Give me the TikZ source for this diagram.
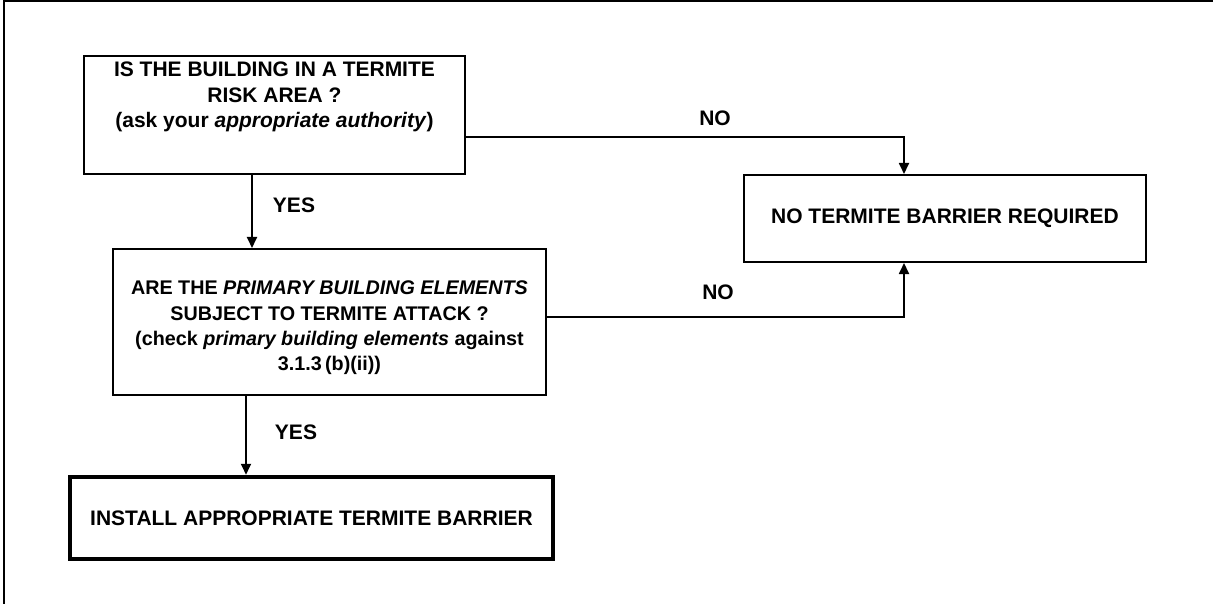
\documentclass[tikz,border=0pt]{standalone}
\usepackage{fontspec}
\setmainfont{Liberation Sans}
\usetikzlibrary{arrows.meta}

\tikzset{
  box/.style={draw, line width=2pt, inner sep=0pt, align=center},
  flow/.style={line width=1.8pt, -{Triangle[length=11pt, width=10pt]}},
  lbl/.style={inner sep=0pt, align=center},
}

\begin{document}
\begin{tikzpicture}[x=1pt, y=-1pt, font=\fontsize{21}{25.5}\selectfont\bfseries]
  \useasboundingbox (0,0) rectangle (1213,604);
  % page frame, top and left only
  \draw[line width=2pt] (4,0) -- (4,604);
  \draw[line width=2pt] (3,1.5) -- (1213,1.5);

  \node[box, minimum width=381pt, minimum height=118pt] (risk) at (274.5,115) {};
  \node[lbl] (risktext) at (274.5,97) {IS THE BUILDING IN A TERMITE\\ RISK AREA ?\\ (ask your \textit{appropriate authority})};

  \node[box, minimum width=433pt, minimum height=146pt] (attack) at (329.5,322) {};
  \node[lbl, font=\fontsize{19.75}{25.3}\selectfont\bfseries] (attacktext) at (329.5,328)
    {ARE THE \textit{PRIMARY BUILDING ELEMENTS}\\ SUBJECT TO TERMITE ATTACK ?\\ (check \textit{primary building elements} against\\ 3.1.3\,(b)(ii))};

  \node[box, minimum width=402pt, minimum height=87pt] (none) at (945,218.5) {NO TERMITE BARRIER REQUIRED};
  \node[box, line width=4.5pt, minimum width=483pt, minimum height=82pt] (install) at (311.5,518) {INSTALL APPROPRIATE TERMITE BARRIER};

  % connectors
  \coordinate (r1) at ([xshift=-22.5pt]risk.south);
  \draw[flow] (r1) -- (r1 |- attack.north);
  \coordinate (r2) at ([yshift=-22pt]risk.east);
  \coordinate (n1) at ([xshift=-41pt]none.north);
  \draw[flow] (r2) -| (n1);
  \coordinate (a2) at ([yshift=5pt]attack.east);
  \coordinate (n2) at ([xshift=-41pt]none.south);
  \draw[flow] (a2) -| (n2);
  \coordinate (a1) at ([xshift=-83.5pt]attack.south);
  \draw[flow] (a1) -- (a1 |- install.north);

  \node[lbl] (yes1) at (294,205) {YES};
  \node[lbl] (yes2) at (296,432) {YES};
  \node[lbl] (no1) at (715,118) {NO};
  \node[lbl] (no2) at (718,292) {NO};
\end{tikzpicture}
\end{document}
